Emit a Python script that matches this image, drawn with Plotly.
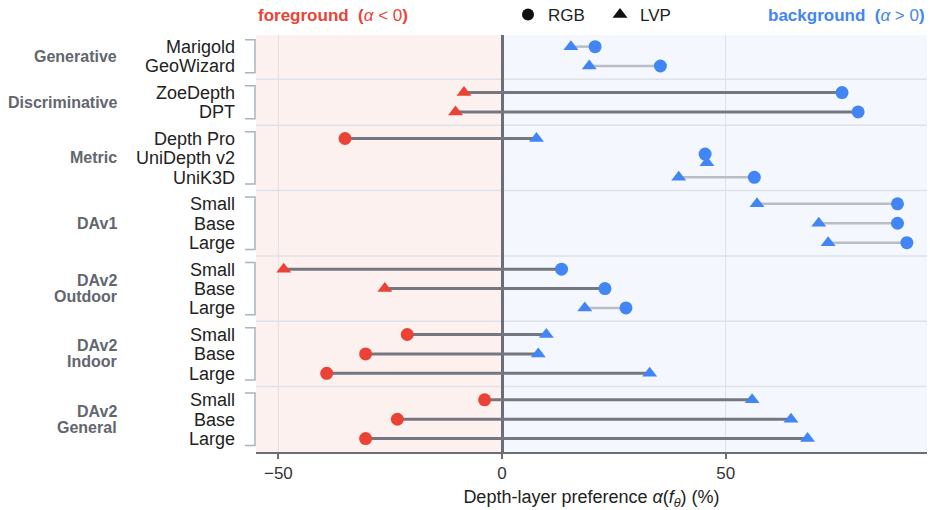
import plotly.graph_objects as go

# ---------------- data ----------------
models = ["Marigold", "GeoWizard", "ZoeDepth", "DPT", "Depth Pro", "UniDepth v2", "UniK3D",
          "Small", "Base", "Large", "Small", "Base", "Large",
          "Small", "Base", "Large", "Small", "Base", "Large"]
groups = ["Generative", "Generative", "Discriminative", "Discriminative",
          "Metric", "Metric", "Metric",
          "DAv1", "DAv1", "DAv1",
          "DAv2\nOutdoor", "DAv2\nOutdoor", "DAv2\nOutdoor",
          "DAv2\nIndoor", "DAv2\nIndoor", "DAv2\nIndoor",
          "DAv2\nGeneral", "DAv2\nGeneral", "DAv2\nGeneral"]
rgb = [20.8, 35.4, 76.0, 79.6, -35.1, 45.4, 56.4,
       88.4, 88.4, 90.5, 13.3, 23.0, 27.7,
       -21.2, -30.5, -39.2, -3.9, -23.4, -30.5]
lvp = [15.4, 19.5, -8.5, -10.4, 7.7, 45.8, 39.5,
       57.0, 70.8, 72.9, -48.8, -26.2, 18.5,
       9.9, 8.1, 33.0, 55.9, 64.6, 68.3]
x_ticks = [-50, 0, 50]

# ---------------- style ----------------
RED = "#EA4335"
BLUE = "#4285F4"
DARK = "#74777f"
LIGHT = "#b9bdc4"
AXIS = "#6b6e76"
GRID = "#dde1e8"
FONT = "Liberation Sans, Arial, sans-serif"
GAP = 1.37

# row positions
ys = []
pos = 0.0
for i, g in enumerate(groups):
    if i > 0:
        pos += 1.0 if g == groups[i - 1] else GAP
    ys.append(pos)

y_top = ys[0] - 0.6
y_bot = ys[-1] + 0.69

fig = go.Figure()

# connecting lines
for (col, w, cond) in [(LIGHT, 2.5, lambda a, b: a * b > 0), (DARK, 3, lambda a, b: a * b <= 0)]:
    lx, ly = [], []
    for a, b, y in zip(rgb, lvp, ys):
        if cond(a, b):
            lx += [a, b, None]
            ly += [y, y, None]
    fig.add_trace(go.Scatter(x=lx, y=ly, mode="lines", line=dict(color=col, width=w),
                             showlegend=False, hoverinfo="skip"))

# small vertical nudge when the two markers overlap
def nudge(a, b):
    return abs(a - b) < 3

fig.add_trace(go.Scatter(
    x=rgb, y=[y - 0.2 if nudge(a, b) else y for a, b, y in zip(rgb, lvp, ys)],
    mode="markers", showlegend=False,
    marker=dict(symbol="circle", size=13, color=[RED if v < 0 else BLUE for v in rgb])))
fig.add_trace(go.Scatter(
    x=lvp, y=[y + 0.25 if nudge(a, b) else y for a, b, y in zip(rgb, lvp, ys)],
    mode="markers", showlegend=False,
    marker=dict(symbol="triangle-up", size=13, color=[RED if v < 0 else BLUE for v in lvp])))

# legend entries
fig.add_trace(go.Scatter(x=[None], y=[None], mode="markers", name="RGB",
                         marker=dict(symbol="circle", size=12, color="#111")))
fig.add_trace(go.Scatter(x=[None], y=[None], mode="markers", name="LVP",
                         marker=dict(symbol="triangle-up", size=13, color="#111")))

shapes = [
    dict(type="rect", xref="x", yref="paper", x0=-55, x1=0, y0=0, y1=1,
         fillcolor="#fdf1f0", line=dict(width=0), layer="below"),
    dict(type="rect", xref="x", yref="paper", x0=0, x1=95, y0=0, y1=1,
         fillcolor="#f4f7fd", line=dict(width=0), layer="below"),
]

annotations = []
# group separators, brackets, group labels
PW = 671.0
xv = -1 / PW
xt = -11 / PW
start = 0
for i in range(len(groups) + 1):
    if i == len(groups) or (i > 0 and groups[i] != groups[i - 1]):
        first, last = ys[start], ys[i - 1]
        g = groups[start]
        shapes.append(dict(type="path", xref="paper", yref="y",
                           path=f"M {xt},{first - 0.35} L {xv},{first - 0.35} L {xv},{last + 0.35} L {xt},{last + 0.35}",
                           line=dict(color="#aab3c0", width=1.5), layer="above"))
        if i < len(groups):
            mid = (last + ys[i]) / 2
            shapes.append(dict(type="line", xref="paper", yref="y", x0=0, x1=1, y0=mid, y1=mid,
                               line=dict(color=GRID, width=1.5), layer="between"))
        lines = g.split("\n")
        center = (first + last) / 2
        n = len(lines)
        for k, t in enumerate(lines):
            annotations.append(dict(
                xref="paper", yref="y", x=(119 - 256) / PW, y=center,
                yshift=(n - 1) * 8 - k * 16,
                text=f"<b>{t}</b>", showarrow=False, xanchor="right", yanchor="middle",
                font=dict(family=FONT, size=16, color="#62666e")))
        start = i

annotations.append(dict(xref="paper", yref="paper", x=0, y=1, yshift=20, xanchor="left",
                        yanchor="middle", showarrow=False,
                        text="<b>foreground&nbsp;&nbsp;(</b><i>α</i> &lt; 0<b>)</b>",
                        font=dict(family=FONT, size=17, color=RED)))
annotations.append(dict(xref="paper", yref="paper", x=1, y=1, yshift=20, xanchor="right",
                        yanchor="middle", showarrow=False,
                        text="<b>background&nbsp;&nbsp;(</b><i>α</i> &gt; 0<b>)</b>",
                        font=dict(family=FONT, size=17, color=BLUE)))

fig.update_layout(
    width=930, height=510,
    margin=dict(l=256, r=3, t=35, b=58),
    paper_bgcolor="white", plot_bgcolor="white",
    font=dict(family=FONT, color="#222"),
    shapes=shapes, annotations=annotations,
    showlegend=True,
    legend=dict(orientation="h", xref="container", yref="container",
                x=508 / 930, xanchor="left", y=1 - 15 / 510, yanchor="middle",
                font=dict(family=FONT, size=17, color="#222"),
                bgcolor="rgba(0,0,0,0)", entrywidth=47, itemclick=False),
    xaxis=dict(range=[-55, 95], tickvals=x_ticks, showgrid=True, gridcolor=GRID, gridwidth=1,
               zeroline=True, zerolinecolor=AXIS, zerolinewidth=2.5,
               showline=True, linecolor=AXIS, linewidth=1.5, automargin=False,
               ticks="outside", ticklen=5, tickwidth=1.5, tickcolor=AXIS,
               tickfont=dict(size=17, color="#333"),
               title=dict(text="Depth-layer preference <i>α</i>(<i>f</i><sub><i>θ</i></sub>) (%)",
                          font=dict(size=18, color="#222"), standoff=8)),
    yaxis=dict(range=[y_bot, y_top], tickvals=ys, ticktext=models, showgrid=False,
               zeroline=False, showline=False, ticks="", ticklabelstandoff=20, automargin=False,
               tickfont=dict(size=18, color="#222")),
)

fig.write_html("out.html", config={"displayModeBar": False},
               post_script="document.body.style.margin='0';")
